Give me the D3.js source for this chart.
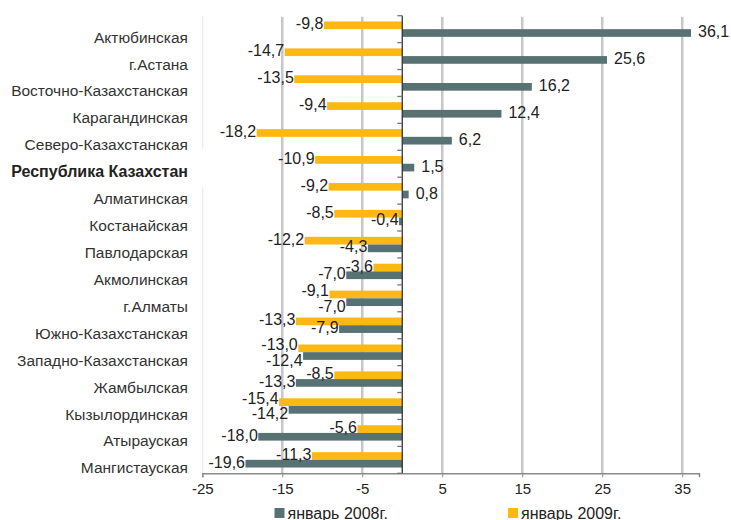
<!DOCTYPE html>
<html>
<head>
<meta charset="utf-8">
<script src="https://cdn.jsdelivr.net/npm/d3@7"></script>
<style>
  html, body { margin: 0; padding: 0; background: #fff; }
  svg { display: block; font-family: "Liberation Sans", Arial, sans-serif; }
</style>
</head>
<body>
<svg id="chart" width="731" height="520"></svg>
<script>
const categories = ["Актюбинская","г.Астана","Восточно-Казахстанская","Карагандинская","Северо-Казахстанская","Республика Казахстан","Алматинская","Костанайская","Павлодарская","Акмолинская","г.Алматы","Южно-Казахстанская","Западно-Казахстанская","Жамбылская","Кызылординская","Атырауская","Мангистауская"];
const jan2008 = [36.1, 25.6, 16.2, 12.4, 6.2, 1.5, 0.8, -0.4, -4.3, -7.0, -7.0, -7.9, -12.4, -13.3, -14.2, -18.0, -19.6];
const jan2009 = [-9.8, -14.7, -13.5, -9.4, -18.2, -10.9, -9.2, -8.5, -12.2, -3.6, -9.1, -13.3, -13.0, -8.5, -15.4, -5.6, -11.3];
const seriesNames = ["январь 2008г.", "январь 2009г."];
const tickValues = [-25, -15, -5, 5, 15, 25, 35];
const gridValues = [-15, -5, 5, 15, 25, 35];
const boldCategory = "Республика Казахстан";

const colors = { "2008": "#587274", "2009": "#FDB813" };

const svg = d3.select("#chart");
const mLeft = 202.3, mRight = 699, mTop = 15.7, mBottom = 473.3;

const x = d3.scaleLinear().domain([-25, 37.1]).range([mLeft, mRight]);
const y0 = d3.scaleBand().domain(categories).range([mTop, mBottom]);
const y1 = d3.scaleBand().domain(["2009", "2008"]).range([0, y0.bandwidth()]).paddingOuter(0.75);

const rows = categories.map((c, i) => ({ cat: c, v2008: jan2008[i], v2009: jan2009[i] }));

// faint plot border on the left (interrupted near the bold label)
const gapTop = y0(categories[4]) + y0.bandwidth();
const gapBottom = y0(categories[6]);
svg.append("line").attr("x1", mLeft + 0.5).attr("x2", mLeft + 0.5).attr("y1", mTop).attr("y2", gapTop - 2)
  .attr("stroke", "#e6e6e6").attr("stroke-width", 1);
svg.append("line").attr("x1", mLeft + 0.5).attr("x2", mLeft + 0.5).attr("y1", gapBottom + 10).attr("y2", mBottom)
  .attr("stroke", "#e6e6e6").attr("stroke-width", 1);

// gridlines
svg.append("g").selectAll("line").data(gridValues).join("line")
  .attr("x1", d => x(d)).attr("x2", d => x(d))
  .attr("y1", mTop + 1).attr("y2", mBottom)
  .attr("stroke", "#c6c6cc").attr("stroke-width", 2.5);

// x axis
const xAxis = svg.append("g").attr("transform", `translate(0,${mBottom})`)
  .call(d3.axisBottom(x).tickValues(tickValues).tickSize(4).tickPadding(6)
    .tickFormat(d => String(d)));
xAxis.select(".domain").attr("stroke", "#8a8a8a").attr("stroke-width", 1.5);
xAxis.selectAll(".tick line").attr("stroke", "#8a8a8a");
xAxis.selectAll(".tick text").attr("fill", "#222").style("font-size", "15px")
  .style("font-family", "'Liberation Sans', Arial, sans-serif");

// bars
const groups = svg.append("g").selectAll("g").data(rows).join("g")
  .attr("transform", d => `translate(0,${y0(d.cat)})`);

groups.append("rect")
  .attr("x", d => x(Math.min(0, d.v2009)))
  .attr("width", d => Math.abs(x(d.v2009) - x(0)))
  .attr("y", y1("2009")).attr("height", y1.bandwidth())
  .attr("fill", colors["2009"]);

groups.append("rect")
  .attr("x", d => x(Math.min(0, d.v2008)))
  .attr("width", d => Math.abs(x(d.v2008) - x(0)))
  .attr("y", y1("2008")).attr("height", y1.bandwidth())
  .attr("fill", colors["2008"]);

// zero axis with ticks on left
const yAxis = svg.append("g").attr("transform", `translate(${x(0)},0)`);
yAxis.append("line").attr("x1", 0).attr("x2", 0).attr("y1", mTop).attr("y2", mBottom)
  .attr("stroke", "#333").attr("stroke-width", 1.3);
yAxis.selectAll(".yt").data(categories.concat(["__end"])).join("line")
  .attr("class", "yt")
  .attr("x1", -5).attr("x2", 0)
  .attr("y1", (d, i) => i < categories.length ? y0(d) : mBottom)
  .attr("y2", (d, i) => i < categories.length ? y0(d) : mBottom)
  .attr("stroke", "#777").attr("stroke-width", 1.3);

// data labels
const fmt = v => v.toFixed(1).replace(".", ",");
function addLabels(key, series) {
  return groups.append("text")
    .attr("class", "lbl" + series)
    .attr("x", d => d[key] >= 0 ? x(d[key]) + 7 : x(d[key]) - 0.5)
    .attr("y", y1(series) + y1.bandwidth() / 2 - 1.5)
    .attr("dominant-baseline", "central")
    .attr("text-anchor", d => d[key] >= 0 ? "start" : "end")
    .attr("fill", "#222")
    .style("font-size", "16px")
    .text(d => fmt(d[key]));
}
addLabels("v2009", "2009");
addLabels("v2008", "2008");

// nudge label pairs that clearly collide horizontally apart a little (like the spreadsheet's auto layout)
groups.each(function () {
  const g = d3.select(this);
  const a = g.select("text.lbl2009"), b = g.select("text.lbl2008");
  const ba = a.node().getBBox(), bb = b.node().getBBox();
  const overlap = Math.min(ba.x + ba.width, bb.x + bb.width) - Math.max(ba.x, bb.x);
  if (overlap > 5) {
    a.attr("y", y1("2009") + y1.bandwidth() / 2 - 4);
    b.attr("y", y1("2008") + y1.bandwidth() / 2 + 4);
  }
});

// category labels
svg.append("g").selectAll("text").data(categories).join("text")
  .attr("x", 188)
  .attr("y", d => y0(d) + y0.bandwidth() / 2 + 8)
  .attr("text-anchor", "end")
  .attr("dominant-baseline", "central")
  .attr("fill", d => d === boldCategory ? "#222" : "#333")
  .style("font-size", d => d === boldCategory ? "16px" : "15.5px")
  .style("font-weight", d => d === boldCategory ? "bold" : "normal")
  .text(d => d);

// legend
const legendItems = [
  { name: seriesNames[0], color: colors["2008"], x: 274.5 },
  { name: seriesNames[1], color: colors["2009"], x: 508 }
];
const lg = svg.append("g").selectAll("g").data(legendItems).join("g")
  .attr("transform", d => `translate(${d.x},508)`);
lg.append("rect").attr("width", 10).attr("height", 10).attr("fill", d => d.color);
lg.append("text").attr("x", 13).attr("y", 5).attr("dominant-baseline", "central")
  .attr("fill", "#222").style("font-size", "16px").text(d => d.name);
</script>
</body>
</html>
